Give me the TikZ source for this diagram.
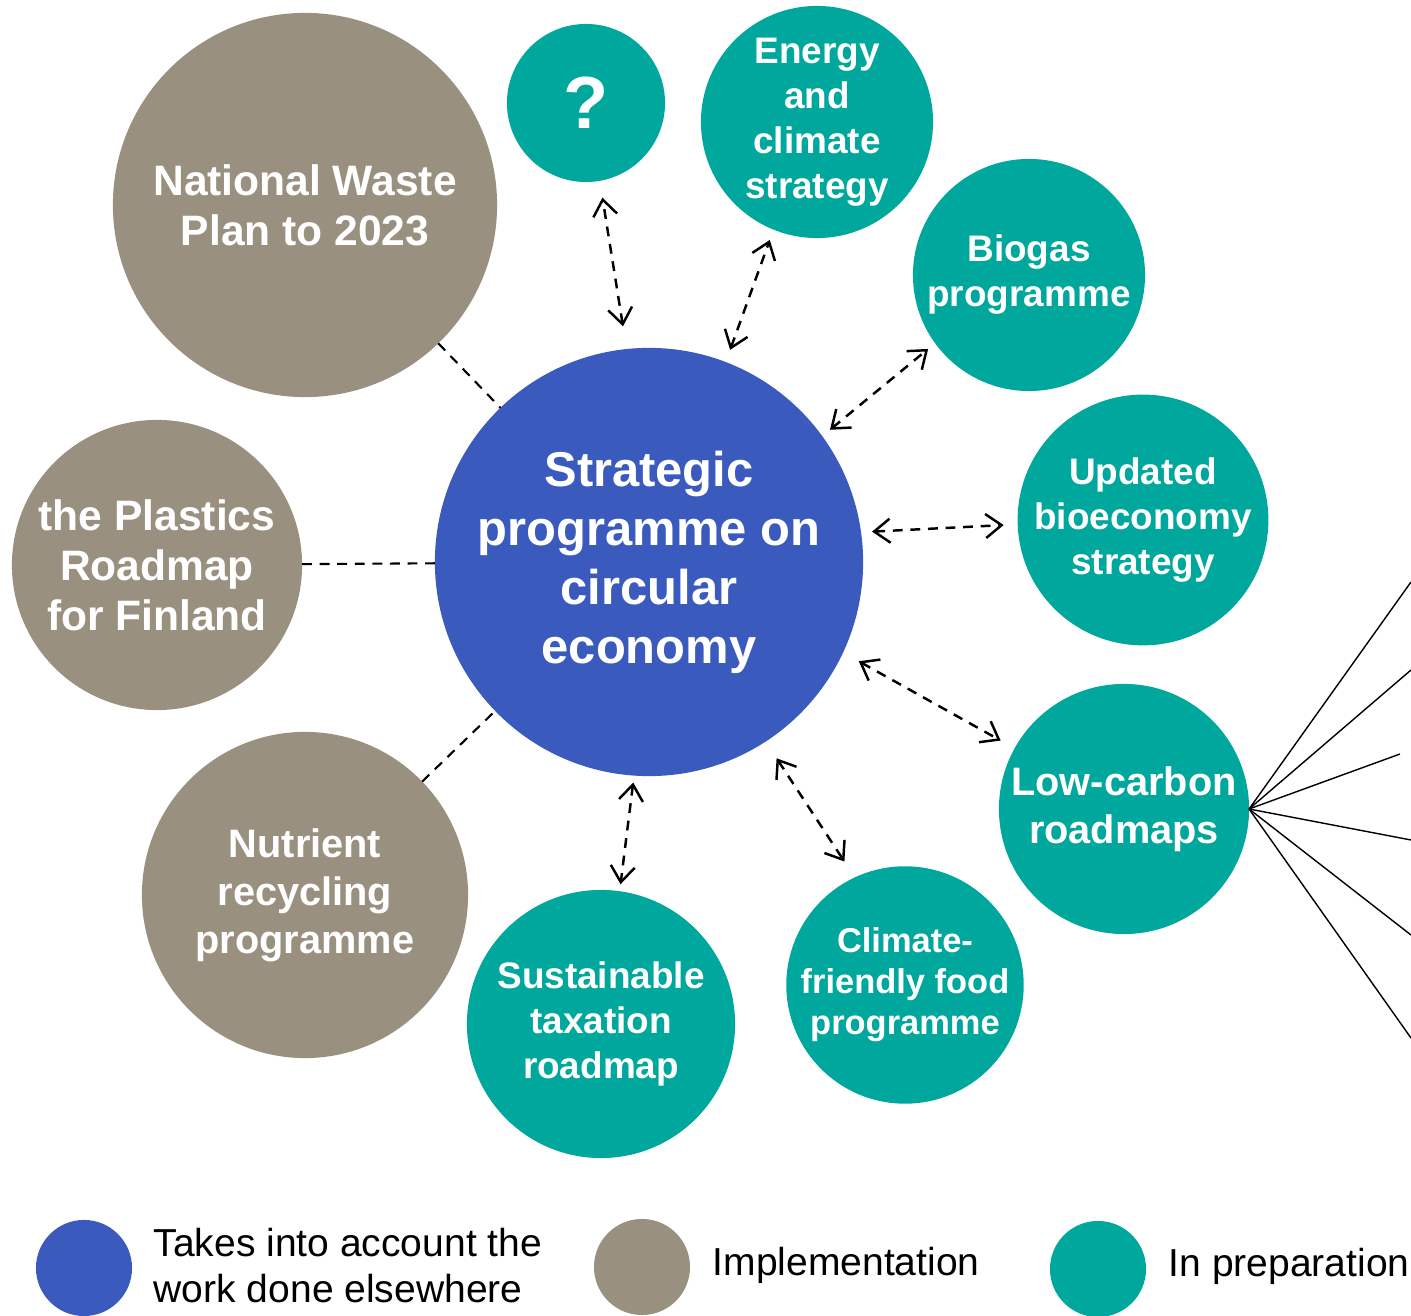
\documentclass[tikz,border=0pt]{standalone}
\usepackage{fontspec}
\setmainfont{Liberation Sans}
\usepackage{tikz}
\usetikzlibrary{arrows.meta}

\definecolor{cblue}{HTML}{3A5ABD}
\definecolor{ctaupe}{HTML}{9A9080}
\definecolor{cteal}{HTML}{00A79D}

\tikzset{
  blob/.style={circle, inner sep=0pt, outer sep=0pt, text=white, align=center},
  sizeA/.style={font=\fontsize{13.9}{16.8}\selectfont\bfseries},
  sizeB/.style={font=\fontsize{12.1}{14.2}\selectfont\bfseries},
  sizeC/.style={font=\fontsize{11.3}{13.7}\selectfont\bfseries},
  sizeD/.style={font=\fontsize{10.5}{12.8}\selectfont\bfseries},
  sizeE/.style={font=\fontsize{9.8}{11.7}\selectfont\bfseries},
  link/.style={dashed, line width=0.6pt, dash pattern=on 2.8pt off 2.2pt},
  dlink/.style={link, line width=0.7pt, {Straight Barb[length=1.6mm,width=2.4mm]}-{Straight Barb[length=1.6mm,width=2.4mm]}},
  fan/.style={line width=0.4pt},
  legtext/.style={anchor=west, inner sep=0pt, align=left, font=\fontsize{11.1}{13.1}\selectfont}
}

\begin{document}
\begin{tikzpicture}[x=0.01cm, y=-0.01cm]
            \useasboundingbox (0,0) rectangle (1411,1316);
            % main circle
            \node[blob, fill=cblue, minimum size=4.28cm, sizeA] (cen) at (649,562) {Strategic\\programme on\\circular\\economy};
            % implementation
            \node[blob, fill=ctaupe, minimum size=3.84cm, sizeB] (waste) at (305,205) {National Waste\\Plan to 2023};
            \node[blob, fill=ctaupe, minimum size=2.90cm, sizeB] (plastics) at (157,565) {the Plastics\\Roadmap\\for Finland};
            \node[blob, fill=ctaupe, minimum size=3.26cm, sizeC] (nutrient) at (305,895) {Nutrient\\recycling\\programme};
            % in preparation
            \node[blob, fill=cteal, minimum size=1.58cm, font=\fontsize{21}{21}\selectfont\bfseries] (quest) at (586,103) {?};
            \node[blob, fill=cteal, minimum size=2.32cm, sizeD] (energy) at (817,122) {Energy\\and\\climate\\strategy};
            \node[blob, fill=cteal, minimum size=2.32cm, sizeD] (biogas) at (1029,275) {Biogas\\programme};
            \node[blob, fill=cteal, minimum size=2.48cm, sizeD] (bioecon) at (1143,520) {Updated\\bioeconomy\\strategy};
            \node[blob, fill=cteal, minimum size=2.50cm, sizeC] (lowc) at (1124,809) {Low-carbon\\roadmaps};
            \node[blob, fill=cteal, minimum size=2.34cm, sizeE] (food) at (905,985) {Climate-\\friendly food\\programme};
            \node[blob, fill=cteal, minimum size=2.68cm, sizeD] (tax) at (601,1024) {Sustainable\\taxation\\roadmap};
            % plain links
            \draw[link] (waste) -- (cen);
            \draw[link] (plastics) -- (cen);
            \draw[link] (nutrient) -- (cen);
            % two-way links
            \draw[dlink, shorten <=23*0.01cm, shorten >=17*0.01cm] (cen.96.8) -- (quest.280);
            \draw[dlink, shorten <=13*0.01cm, shorten >=11*0.01cm] (cen.69.9) -- (energy.248.7);
            \draw[dlink, shorten <=10*0.01cm, shorten >=9*0.01cm] (cen.36.8) -- (biogas.216.9);
            \draw[dlink, shorten <=11*0.01cm, shorten >=14*0.01cm] (cen.8.2) -- (bioecon.182.9);
            \draw[dlink, shorten <=18*0.01cm, shorten >=16*0.01cm] (cen.335.9) -- (lowc.151.6);
            \draw[dlink, shorten <=20*0.01cm, shorten >=19*0.01cm] (cen.303.7) -- (food.115.2);
            \draw[dlink, shorten <=7*0.01cm, shorten >=7*0.01cm] (cen.266.9) -- (tax.82.7);
            % roadmap fan
            \coordinate (f1) at (1411,582);
            \coordinate (f2) at (1411,670);
            \coordinate (f3) at (1400,754);
            \coordinate (f4) at (1411,840);
            \coordinate (f5) at (1411,935);
            \coordinate (f6) at (1411,1038);
            \foreach \f in {f1,f2,f3,f4,f5,f6}
                \draw[fan] (lowc.east) -- (\f);
            % legend
            \node[blob, fill=cblue, minimum size=0.96cm] (legblue) at (84,1268) {};
            \node[blob, fill=ctaupe, minimum size=0.96cm] (legtaupe) at (642,1267) {};
            \node[blob, fill=cteal, minimum size=0.96cm] (legteal) at (1098,1269) {};
            \node[legtext] (legbluetxt) at (153,1266) {Takes into account the\\work done elsewhere};
            \node[legtext] (legtaupetxt) at (712,1265) {Implementation};
            \node[legtext] (legtealtxt) at (1168,1266) {In preparation};
        \end{tikzpicture}
\end{document}
